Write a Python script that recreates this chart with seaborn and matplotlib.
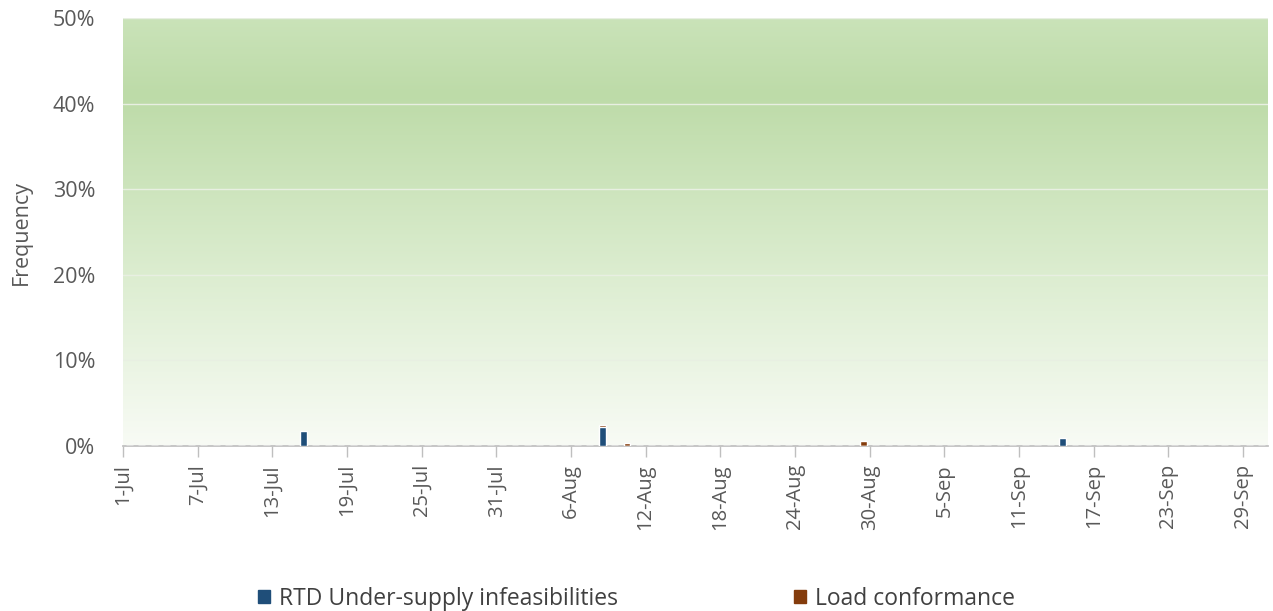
import numpy as np
import pandas as pd
import matplotlib
matplotlib.use("Agg")
import matplotlib.pyplot as plt
from matplotlib.colors import LinearSegmentedColormap
import seaborn as sns
import datetime as dt

# ---- data ----
start = dt.date(2023, 7, 1)
days = [start + dt.timedelta(days=i) for i in range(92)]
day_labels = [f"{d.day}-{d.strftime('%b')}" for d in days]

series_names = ["RTD Under-supply infeasibilities", "Load conformance"]
rtd_events = {"15-Jul": 0.017, "8-Aug": 0.022, "14-Sep": 0.009}
load_events = {"8-Aug": 0.024, "10-Aug": 0.003, "29-Aug": 0.006}
tick_every = 6
colors = ["#1F4E79", "#843C0C"]

rtd = [rtd_events.get(l, 0.0) for l in day_labels]
load = [load_events.get(l, 0.0) for l in day_labels]
df_rtd = pd.DataFrame({"day": day_labels, "value": rtd})
df_load = pd.DataFrame({"day": day_labels, "value": load})

sns.set_theme(style="white")
plt.rcParams['font.family'] = ['Open Sans', 'DejaVu Sans']

fig = plt.figure(figsize=(12.73, 6.11), dpi=100)
ax = fig.add_axes([0.0966, 0.27, 0.8994, 0.7005])

# gradient background
cmap = LinearSegmentedColormap.from_list(
    "bg", [(0.0, "#f8fbf5"), (0.4, "#dcedd0"), (0.82, "#bddba8"), (1.0, "#cae3b9")])
grad = np.linspace(0, 1, 256).reshape(-1, 1)
ax.imshow(grad, aspect="auto", cmap=cmap, origin="lower",
          extent=(-0.5, 91.5, 0, 0.5), zorder=0)

# load conformance behind, RTD in front (full overlap)
sns.barplot(data=df_load, x="day", y="value", order=day_labels, color=colors[1],
            width=0.55, saturation=1, ax=ax, zorder=3)
sns.barplot(data=df_rtd, x="day", y="value", order=day_labels, color=colors[0],
            width=0.55, saturation=1, ax=ax, zorder=4)

ax.set_xlim(-0.5, 91.5)
ax.set_ylim(0, 0.5)
ax.set_yticks(np.arange(0, 0.51, 0.1))
ax.set_yticklabels([f"{int(round(v*100))}%" for v in np.arange(0, 0.51, 0.1)],
                   fontsize=15.5, color="#595959")
for y in np.arange(0.1, 0.51, 0.1):
    ax.axhline(y, color="#e8efe2", lw=1, zorder=1)

tick_idx = list(range(0, 92, tick_every))
ax.set_xticks([i - 0.5 for i in tick_idx])
ax.set_xticklabels([day_labels[i] for i in tick_idx], rotation=90,
                   fontsize=14.5, color="#595959")
ax.tick_params(axis="x", direction="out", length=8, color="#bfbfbf", width=1,
               bottom=True, pad=5)
ax.tick_params(axis="y", length=0, pad=20)
ax.set_xlabel("")
ax.set_ylabel("Frequency", fontsize=15.5, color="#595959")
ax.yaxis.set_label_coords(-0.0795, 0.5)
for s in ["top", "right", "left"]:
    ax.spines[s].set_visible(False)
ax.spines["bottom"].set_color("#bfbfbf")

handles = [plt.Rectangle((0, 0), 1, 1, color=c) for c in colors]
fig.legend(handles, series_names, loc="lower center", ncol=2,
           bbox_to_anchor=(0.5, -0.033), frameon=False, fontsize=16.5,
           handlelength=0.55, handleheight=0.55, handletextpad=0.4,
           columnspacing=7.65, labelcolor="#404040")

fig.savefig("out.png", dpi=100)
